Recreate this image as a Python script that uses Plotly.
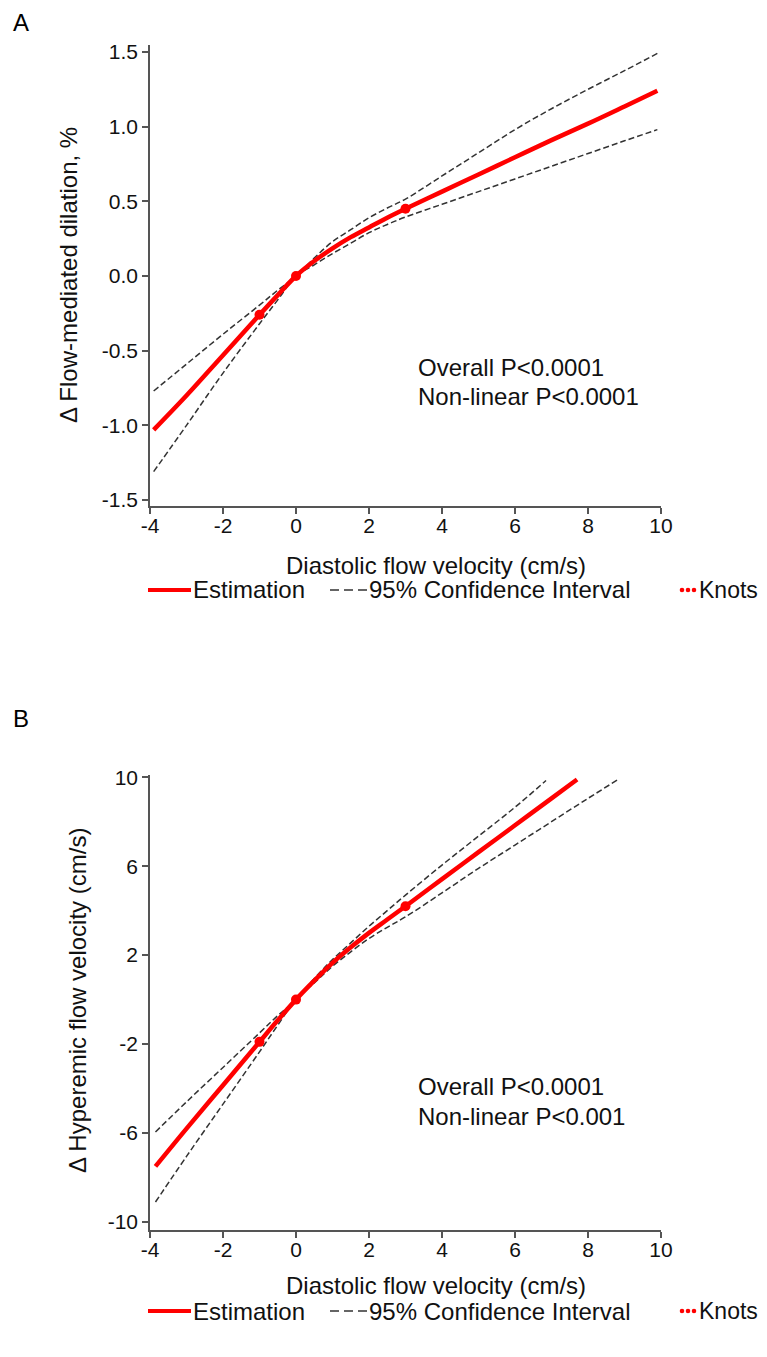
import plotly.graph_objects as go

# ---------------- Data ----------------
# Panel A: Delta FMD vs diastolic flow velocity
a_x = [-3.9, -3, -2, -1, -0.5, 0, 0.5, 1, 1.5, 2, 2.5, 3, 4, 5, 6, 7, 8, 9, 9.9]
a_est = [-1.03, -0.80, -0.53, -0.26, -0.128, 0, 0.10, 0.185, 0.26, 0.325, 0.39, 0.45,
         0.565, 0.68, 0.795, 0.91, 1.02, 1.135, 1.24]
a_up = [-0.77, -0.59, -0.39, -0.195, -0.095, 0, 0.12, 0.23, 0.31, 0.39, 0.455, 0.515,
        0.67, 0.825, 0.98, 1.12, 1.25, 1.375, 1.49]
a_lo = [-1.31, -1.0, -0.65, -0.32, -0.16, 0, 0.075, 0.15, 0.22, 0.29, 0.345, 0.395,
        0.48, 0.565, 0.65, 0.735, 0.82, 0.905, 0.98]
a_knot_x = [-1, 0, 3]
a_knot_y = [-0.26, 0, 0.45]

# Panel B: Delta hyperemic flow velocity vs diastolic flow velocity
b_x_est = [-3.85, -3, -2, -1, -0.5, 0, 0.5, 1, 1.5, 2, 2.5, 3, 4, 5, 6, 7, 7.7]
b_est = [-7.5, -5.8, -3.85, -1.9, -0.93, 0, 0.85, 1.65, 2.35, 3.0, 3.6, 4.2,
         5.42, 6.63, 7.84, 9.05, 9.9]
b_x_up = [-3.85, -3, -2, -1, -0.5, 0, 0.5, 1, 1.5, 2, 2.5, 3, 4, 5, 6, 6.85]
b_up = [-5.95, -4.6, -3.05, -1.5, -0.72, 0, 0.95, 1.8, 2.55, 3.3, 4.0, 4.7,
        6.05, 7.35, 8.65, 9.85]
b_x_lo = [-3.85, -3, -2, -1, -0.5, 0, 0.5, 1, 1.5, 2, 2.5, 3, 4, 5, 6, 7, 8, 8.8]
b_lo = [-9.1, -7.05, -4.7, -2.35, -1.15, 0, 0.75, 1.5, 2.15, 2.75, 3.25, 3.72,
        4.8, 5.9, 6.95, 8.0, 9.05, 9.87]
b_knot_x = [-1, 0, 3]
b_knot_y = [-1.9, 0, 4.2]

a_yticks = [1.5, 1.0, 0.5, 0.0, -0.5, -1.0, -1.5]
b_yticks = [10, 6, 2, -2, -6, -10]
x_ticks = [-4, -2, 0, 2, 4, 6, 8, 10]

x_title = "Diastolic flow velocity (cm/s)"
a_y_title = "Δ Flow-mediated dilation, %"
b_y_title = "Δ Hyperemic flow velocity (cm/s)"

# ---------------- Figure ----------------
OFF = 8                      # browser body margin
W, H = 767 - 2 * OFF, 1357 - 2 * OFF
L, T = 142, 36
R = W - (661 - OFF)
B = H - (1230 - OFF)
PW, PH = W - L - R, H - T - B
RED = "#ff0000"
DARK = "#333333"
AX = "#555555"
FONT = "Liberation Sans, Arial, sans-serif"


def px(x):  # screen pixel -> paper x
    return (x - OFF - L) / PW


def py(y):  # screen pixel -> paper y
    return 1 - (y - OFF - T) / PH


fig = go.Figure()


def add_panel(xa, ya, xe, ye, xu, yu, xl, yl, kx, ky):
    for xs, ys in [(xu, yu), (xl, yl)]:
        fig.add_trace(go.Scatter(x=xs, y=ys, mode="lines", xaxis=xa, yaxis=ya,
                                 line=dict(color=DARK, width=1.5, dash="6px,3px"),
                                 line_shape="spline", showlegend=False))
    fig.add_trace(go.Scatter(x=xe, y=ye, mode="lines", xaxis=xa, yaxis=ya,
                             line=dict(color=RED, width=4.5), line_shape="spline",
                             showlegend=False))
    fig.add_trace(go.Scatter(x=kx, y=ky, mode="markers", xaxis=xa, yaxis=ya,
                             marker=dict(color=RED, size=10), showlegend=False))


add_panel("x", "y", a_x, a_est, a_x, a_up, a_x, a_lo, a_knot_x, a_knot_y)
add_panel("x2", "y2", b_x_est, b_est, b_x_up, b_up, b_x_lo, b_lo, b_knot_x, b_knot_y)

common_axis = dict(showline=True, linecolor=AX, linewidth=1.5, ticks="outside",
                   ticklen=6, tickwidth=1.5, tickcolor=AX, showgrid=False,
                   zeroline=False, automargin=False,
                   tickfont=dict(size=21, color="#111", family=FONT))
x_ticktext = [str(v) for v in x_ticks]

fig.update_layout(
    width=W, height=H, margin=dict(l=L, r=R, t=T, b=B),
    paper_bgcolor="white", plot_bgcolor="white",
    font=dict(family=FONT, color="#111"),
    xaxis=dict(domain=[0, 1], anchor="y", range=[-4, 10], tickvals=x_ticks,
               ticktext=x_ticktext, ticklabelstandoff=-6, **common_axis),
    yaxis=dict(domain=[py(506), py(44.5)], anchor="x", range=[-1.54, 1.55],
               tickvals=a_yticks, ticktext=[f"{v:.1f}" for v in a_yticks],
               **common_axis),
    xaxis2=dict(domain=[0, 1], anchor="y2", range=[-4, 10], tickvals=x_ticks,
                ticktext=x_ticktext, ticklabelstandoff=-6, **common_axis),
    yaxis2=dict(domain=[py(1230), py(775)], anchor="x2", range=[-10.36, 10.1],
                tickvals=b_yticks, ticktext=[str(v) for v in b_yticks],
                **common_axis),
)

# Axis titles (placed as in the reference)
for ty in [565, 1285]:
    fig.add_annotation(x=px(436), y=py(ty), xref="paper", yref="paper", text=x_title,
                       showarrow=False, xanchor="center", yanchor="middle",
                       font=dict(size=24))
for tx, ty, txt in [(68, 275, a_y_title), (78, 1001, b_y_title)]:
    fig.add_annotation(x=px(tx), y=py(ty), xref="paper", yref="paper", text=txt,
                       textangle=-90, showarrow=False, xanchor="center",
                       yanchor="middle", font=dict(size=24))

# Statistics text
for xr, yr, y1, y2, t2 in [("x", "y", -0.61, -0.81, "Non-linear P<0.0001"),
                           ("x2", "y2", -3.9, -5.25, "Non-linear P<0.001")]:
    fig.add_annotation(x=3.3, y=y1, xref=xr, yref=yr, text="Overall P<0.0001",
                       showarrow=False, xanchor="left", font=dict(size=24))
    fig.add_annotation(x=3.3, y=y2, xref=xr, yref=yr, text=t2,
                       showarrow=False, xanchor="left", font=dict(size=24))

# Panel letters
for lab, ypx in [("A", 23), ("B", 718)]:
    fig.add_annotation(x=px(11), y=py(ypx), xref="paper", yref="paper", text=lab,
                       showarrow=False, xanchor="left", yanchor="middle",
                       font=dict(size=24, color="#000"))

# Manual legends
for ly in [590, 1311]:
    fig.add_shape(type="line", xref="paper", yref="paper", x0=px(148), x1=px(191),
                  y0=py(ly), y1=py(ly), line=dict(color=RED, width=4))
    fig.add_annotation(x=px(191), y=py(ly), xref="paper", yref="paper", text="Estimation",
                       showarrow=False, xanchor="left", yanchor="middle", font=dict(size=24))
    fig.add_shape(type="line", xref="paper", yref="paper", x0=px(330), x1=px(369),
                  y0=py(ly), y1=py(ly), line=dict(color=DARK, width=1.5, dash="9px,5px"))
    fig.add_annotation(x=px(367), y=py(ly), xref="paper", yref="paper",
                       text="95% Confidence Interval", showarrow=False, xanchor="left",
                       yanchor="middle", font=dict(size=24))
    for cx in [682, 688, 694]:
        fig.add_shape(type="circle", xref="paper", yref="paper", x0=px(cx - 2.3),
                      x1=px(cx + 2.3), y0=py(ly + 2.3), y1=py(ly - 2.3),
                      fillcolor=RED, line=dict(width=0))
    fig.add_annotation(x=px(697), y=py(ly), xref="paper", yref="paper", text="Knots",
                       showarrow=False, xanchor="left", yanchor="middle", font=dict(size=23))

fig.write_html("out.html")
